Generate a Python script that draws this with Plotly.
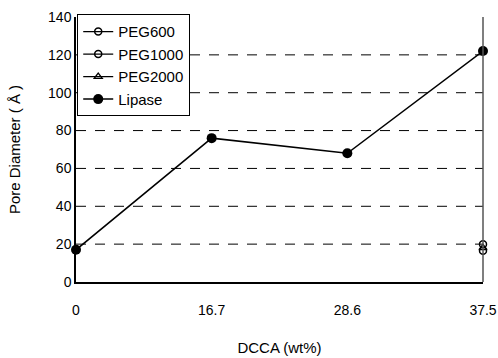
import plotly.graph_objects as go

categories = ["0", "16.7", "28.6", "37.5"]
lipase = [17, 76, 68, 122]
peg600 = [None, None, None, 20]
peg1000 = [None, None, None, 16.5]
peg2000 = [None, None, None, 18]
y_ticks = [0, 20, 40, 60, 80, 100, 120, 140]
grid_vals = [20, 40, 60, 80, 100, 120]

fig = go.Figure()
fig.add_trace(go.Scatter(x=categories, y=peg600, name="PEG600", mode="lines+markers",
                         line=dict(color="black", width=1.2),
                         marker=dict(symbol="circle-open", size=7, color="black", line=dict(width=1.5)),
                         cliponaxis=False))
fig.add_trace(go.Scatter(x=categories, y=peg1000, name="PEG1000", mode="lines+markers",
                         line=dict(color="black", width=1.2),
                         marker=dict(symbol="circle-open", size=7, color="black", line=dict(width=1.5)),
                         cliponaxis=False))
fig.add_trace(go.Scatter(x=categories, y=peg2000, name="PEG2000", mode="lines+markers",
                         line=dict(color="black", width=1.2),
                         marker=dict(symbol="triangle-up-open", size=7, color="black", line=dict(width=1.3)),
                         cliponaxis=False))
fig.add_trace(go.Scatter(x=categories, y=lipase, name="Lipase", mode="lines+markers",
                         line=dict(color="black", width=1.5),
                         marker=dict(symbol="circle", size=10, color="black"),
                         cliponaxis=False))

for g in grid_vals:
    fig.add_shape(type="line", xref="paper", yref="y", x0=0, x1=1, y0=g, y1=g,
                  line=dict(color="black", width=1, dash="10px,9px"), layer="below")
fig.add_shape(type="line", xref="paper", yref="paper", x0=1, x1=1, y0=0, y1=1,
              line=dict(color="#555555", width=1.5))

fig.update_layout(
    width=498, height=358,
    margin=dict(l=76, r=15, t=17, b=76),
    paper_bgcolor="white", plot_bgcolor="white",
    font=dict(family="Liberation Sans, Arial, sans-serif", size=14, color="black"),
    showlegend=True,
    legend=dict(x=0.003, y=1.01, xanchor="left", yanchor="top",
                bordercolor="black", borderwidth=1, bgcolor="white",
                font=dict(size=15), tracegroupgap=0, itemwidth=30),
    xaxis=dict(type="category", categoryorder="array", categoryarray=categories,
               range=[0, 3], showline=True, linecolor="black", linewidth=1.5,
               showgrid=False, ticks="", ticklabelstandoff=14, automargin=False,
               title=dict(text="DCCA (wt%)", standoff=26, font=dict(size=15))),
    yaxis=dict(range=[0, 140], tickvals=y_ticks, showline=True, linecolor="black",
               linewidth=1.5, showgrid=False, ticks="", zeroline=False, automargin=False,
               title=dict(text="Pore Diameter ( Å )", standoff=24, font=dict(size=15))),
)

fig.write_html("out.html")
